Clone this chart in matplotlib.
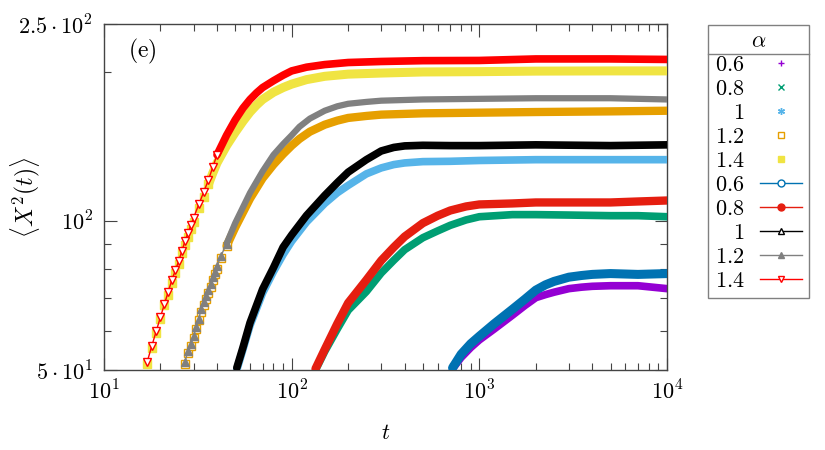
import numpy as np
import matplotlib
matplotlib.use('Agg')
import matplotlib.pyplot as plt
from matplotlib.ticker import FixedLocator, FixedFormatter, NullFormatter
from matplotlib.lines import Line2D

plt.rcParams['mathtext.fontset'] = 'cm'
plt.rcParams['font.family'] = 'serif'
plt.rcParams['font.serif'] = ['cmr10', 'DejaVu Serif']
plt.rcParams['axes.unicode_minus'] = False

# alpha = 0.6
t_06 = [720, 800, 900, 1000, 1200, 1500, 1750, 2000, 2250, 2500, 3000, 3500, 4000, 5000, 7000, 10000]
y_06_pts = [50.3, 53, 55.5, 57.5, 60.5, 64.5, 67.5, 70, 71, 71.8, 73, 73.5, 73.8, 74, 74, 73]
y_06_line = [50.5, 53.8, 56.5, 58.5, 62, 66.3, 69.5, 72.5, 74.3, 75.5, 77, 77.6, 78, 78.3, 78, 78.3]

# alpha = 0.8
t_08 = [134, 150, 175, 200, 250, 300, 350, 400, 500, 600, 700, 850, 1000, 1500, 2000, 3000, 5000, 7000, 10000]
y_08_pts = [50, 54.5, 60.5, 66, 72, 78.5, 83.3, 87.5, 92.5, 95.5, 98, 100.5, 102, 103, 103, 102.8, 102.5,
            102.5, 102]
y_08_line = [50.3, 55, 62, 68.3, 76, 83.2, 88.5, 93, 99, 102.5, 105, 107, 108, 108.5, 109, 109, 109, 109.5, 110]

# alpha = 1
t_10 = [51, 55, 60, 70, 80, 90, 100, 120, 150, 175, 200, 250, 300, 350, 400, 500, 700, 1000, 2000, 5000, 10000]
y_10_pts = [50, 55, 61.5, 71.5, 79, 85.5, 91, 99.5, 108.5, 114, 118, 124.5, 128, 130, 131, 131.8, 132, 132.5,
            133, 133, 133]
y_10_line = [50.5, 55.5, 62.3, 72.8, 80.5, 88.5, 93.7, 102.6, 112.6, 119.5, 125.5, 133, 138.5, 140.8, 141.8,
             142.2, 142, 142, 142.5, 142, 142.5]

# alpha = 1.2
t_12 = [27, 28, 29, 30, 31, 32, 33, 34, 35, 36, 37, 38, 39, 40, 42, 45, 50, 60, 70, 80,
        90, 100, 110, 125, 150, 175, 200, 250, 300, 500, 1000, 2000, 5000, 10000]
y_12_pts = [51.5, 54, 56, 58, 60.5, 63, 65.5, 67.5, 69.5, 71.5, 73.5, 76, 78, 80, 84, 89, 97, 111, 122, 130,
            136.5, 142, 146.5, 151.5, 156.5, 159.5, 161.5, 163, 164, 165, 165.5, 166, 166.5, 167]
y_12_line = [52, 54.5, 56.5, 58.5, 61, 63.5, 66.5, 68.5, 70.5, 72.5, 74.5, 77, 79, 81, 85, 90, 99, 114, 126, 136,
             143, 149, 155, 161, 167, 170.5, 172.5, 174, 175, 176, 176.5, 177, 177, 176]

# alpha = 1.4
t_14 = [17, 18, 19, 20, 21, 22, 23, 24, 25, 26, 27, 28, 29, 30, 32, 34, 36, 38, 40, 45, 50, 55, 60, 65, 70,
        80, 90, 100, 120, 150, 200, 300, 500, 1000, 2000, 5000, 10000]
y_14_pts = [51.5, 55.5, 59.5, 63.5, 67.5, 71, 75, 78.5, 82, 86, 89.5, 93, 96.5, 99.5, 106, 112, 118.5, 125,
            131, 142, 151, 159, 166, 171.5, 176, 182, 186, 189, 193, 196, 198, 199, 200, 200.3, 200.8, 201, 201]
y_14_line = [52, 56, 60, 64, 68, 72, 76, 79.5, 83, 87, 91, 94.5, 98, 101.5, 108, 114.5, 121, 128.5, 136,
             149, 160, 169, 176, 181.5, 186, 192, 197, 201, 204.5, 207, 209, 210, 210.8, 211, 212.5, 212.5, 212]

alpha_labels = ['0.6', '0.8', '1', '1.2', '1.4']

# (t, y, colour, marker, filled, band width, marker threshold)
pts_series = [
    (t_06, y_06_pts, '#9400D3', '+', False, 5.5, 0),
    (t_08, y_08_pts, '#009E73', 'x', False, 5.5, 0),
    (t_10, y_10_pts, '#56B4E9', (6, 2, 0), False, 5.5, 0),
    (t_12, y_12_pts, '#E69F00', 's', False, 6.0, 45),
    (t_14, y_14_pts, '#F0E442', 's', True, 6.5, 36),
]
line_series = [
    (t_06, y_06_line, '#0072B2', 'o', False, 6.5, 0),
    (t_08, y_08_line, '#E51E10', 'o', True, 6.0, 0),
    (t_10, y_10_line, '#000000', '^', False, 5.5, 0),
    (t_12, y_12_line, '#808080', '^', True, 4.5, 45),
    (t_14, y_14_line, '#FF0000', 'v', False, 5.5, 40),
]

fig = plt.figure(figsize=(8.25, 4.5), dpi=100)
ax = fig.add_axes([104 / 825, 80 / 450, 563 / 825, 346 / 450])
ax.set_xscale('log')
ax.set_yscale('log')

z = 2
for group, is_line in ((pts_series, False), (line_series, True)):
    for t, y, c, m, filled, bw, thr in group:
        t = np.array(t, float)
        y = np.array(y, float)
        band = t >= thr
        ax.plot(t[band], y[band], color=c, lw=bw, solid_capstyle='round',
                solid_joinstyle='round', zorder=z)
        if is_line:
            ax.plot(t, y, color=c, lw=1.0, zorder=z + 0.1)
        if thr > 0:
            early = t <= thr
            ax.plot(t[early], y[early], ls='none', marker=m, ms=5.5, mew=1.0,
                    mec=c, mfc=c if filled else 'white', zorder=z + 0.2)
        z += 1

ax.set_xlim(10, 1e4)
ax.set_ylim(50, 250)
ax.yaxis.set_major_locator(FixedLocator([50, 100, 250]))
ax.yaxis.set_major_formatter(FixedFormatter([r'$5\cdot10^{1}$', r'$10^{2}$', r'$2.5\cdot10^{2}$']))
ax.yaxis.set_minor_locator(FixedLocator([60, 70, 80, 90, 200]))
ax.yaxis.set_minor_formatter(NullFormatter())
ax.xaxis.set_major_locator(FixedLocator([10, 100, 1000, 10000]))
ax.xaxis.set_major_formatter(FixedFormatter([r'$10^{1}$', r'$10^{2}$', r'$10^{3}$', r'$10^{4}$']))
ax.tick_params(which='both', direction='in', top=True, right=True, colors='#444444',
               labelcolor='black', labelsize=16, width=0.8)
ax.tick_params(which='major', length=9)
ax.tick_params(which='minor', length=5)
ax.tick_params(axis='x', pad=7)
ax.tick_params(axis='y', pad=8)
for s in ax.spines.values():
    s.set_color('#444444')
    s.set_linewidth(1.0)

ax.set_xlabel(r'$t$', fontsize=16)
ax.set_ylabel(r'$\langle X^2(t)\rangle$', fontsize=17)
ax.xaxis.set_label_coords(0.5, -0.155)
ax.yaxis.set_label_coords(-0.11, 0.5)
ax.text(0.043, 0.922, r'$\mathrm{(e)}$', transform=ax.transAxes, fontsize=17, ha='left', va='center')

# legend
handles = []
for t, y, c, m, filled, bw, thr in pts_series:
    handles.append(Line2D([], [], ls='none', marker=m, ms=5, mew=1.0, color=c,
                          mfc=c if filled else 'none'))
for t, y, c, m, filled, bw, thr in line_series:
    handles.append(Line2D([], [], lw=1.0, marker=m, ms=5, mew=1.0, color=c,
                          mfc=c if filled else 'white'))


def pad_label(s):
    return r'$\enspace\;' + s + '$' if len(s) == 1 else '$' + s + '$'


labels = [pad_label(s) for s in alpha_labels] * 2
leg = ax.legend(handles, labels, title=r'$\alpha$', loc='upper left',
                bbox_to_anchor=(708 / 825, 1 - 25 / 450), bbox_transform=fig.transFigure,
                fontsize=16, title_fontsize=16, markerfirst=False, fancybox=False,
                edgecolor='#808080', borderpad=0.3, labelspacing=0.2, handlelength=1.9,
                handletextpad=0.7, borderaxespad=0, framealpha=1)
leg.get_frame().set_linewidth(1.0)

fig.canvas.draw()
lb = leg.get_window_extent()
tb = leg.get_title().get_window_extent()
ysep = (tb.y0 - 3) / fig.bbox.height
fig.add_artist(Line2D([lb.x0 / fig.bbox.width, lb.x1 / fig.bbox.width], [ysep, ysep],
                      transform=fig.transFigure, color='#808080', lw=1.0))

fig.savefig('out.png', dpi=100)
